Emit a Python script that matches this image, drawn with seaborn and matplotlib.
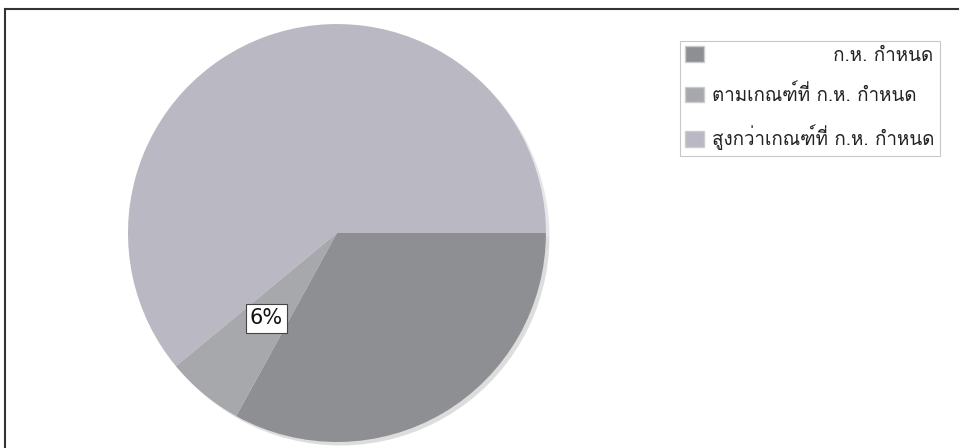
import matplotlib
matplotlib.use('Agg')
import matplotlib.pyplot as plt
import seaborn as sns
from matplotlib import font_manager
from matplotlib.ft2font import FT2Font

# Data (clockwise from 3 o'clock)
categories = ['ก.ห. กำหนด', 'ตามเกณฑ์ที่ ก.ห. กำหนด', 'สูงกว่าเกณฑ์ที่ ก.ห. กำหนด']
shares = [33, 6, 61]
shown_labels = [False, True, False]
colors = ['#8e8f93', '#a6a8ac', '#bab8c2']

# find an installed family with Thai glyphs
thai_font = None
for f in font_manager.fontManager.ttflist:
    try:
        if ord('ก') in FT2Font(f.fname).get_charmap():
            thai_font = f.name
            break
    except Exception:
        pass

sns.set_theme(style='white')
plt.rcParams['font.family'] = [thai_font, 'DejaVu Sans'] if thai_font else ['DejaVu Sans']

fig = plt.figure(figsize=(9.63, 4.48), dpi=100)

# outer frame of the scanned chart
frame = fig.add_axes([0.005, 0.0, 0.99, 0.98])
frame.set_xticks([])
frame.set_yticks([])
for side in ['right', 'bottom']:
    frame.spines[side].set_visible(False)
for side in ['left', 'top']:
    frame.spines[side].set_color('#333333')
    frame.spines[side].set_linewidth(1.5)
frame.patch.set_alpha(0)

ax = fig.add_axes([0.1329, 0.0134, 0.434, 0.933])

def pct_label(p):
    idx = min(range(len(shares)), key=lambda i: abs(shares[i] - p))
    return f'{p:.0f}%' if shown_labels[idx] else ''

wedges, texts, autotexts = ax.pie(
    shares, colors=colors, startangle=0, counterclock=False,
    autopct=pct_label, pctdistance=0.53,
    shadow={'ox': 0.012, 'oy': -0.012, 'shade': 0.15, 'alpha': 0.25},
    wedgeprops={'linewidth': 0},
    textprops={'fontsize': 15, 'color': '#111111', 'family': 'DejaVu Sans'},
)
for t in autotexts:
    if t.get_text():
        t.set_bbox({'facecolor': 'white', 'edgecolor': '#444444', 'linewidth': 0.8, 'pad': 3})
ax.set_xlim(-1, 1)
ax.set_ylim(-1, 1)
ax.set_aspect('equal')

labels = [' ' * 19 + categories[0], categories[1], categories[2]]
leg = fig.legend(wedges, labels, loc='upper left', bbox_to_anchor=(0.696, 0.93),
                 frameon=True, fancybox=False, edgecolor='#bbbbbb', fontsize=13.5,
                 handlelength=1.0, handleheight=0.9, labelspacing=1.05,
                 handletextpad=0.45, borderpad=0.3)
leg.get_frame().set_linewidth(0.8)
for txt in leg.get_texts():
    txt.set_color('#222222')
for h in leg.legend_handles:
    h.set_edgecolor('#cccccc')
    h.set_linewidth(1.0)

fig.savefig('out.png', dpi=100)
